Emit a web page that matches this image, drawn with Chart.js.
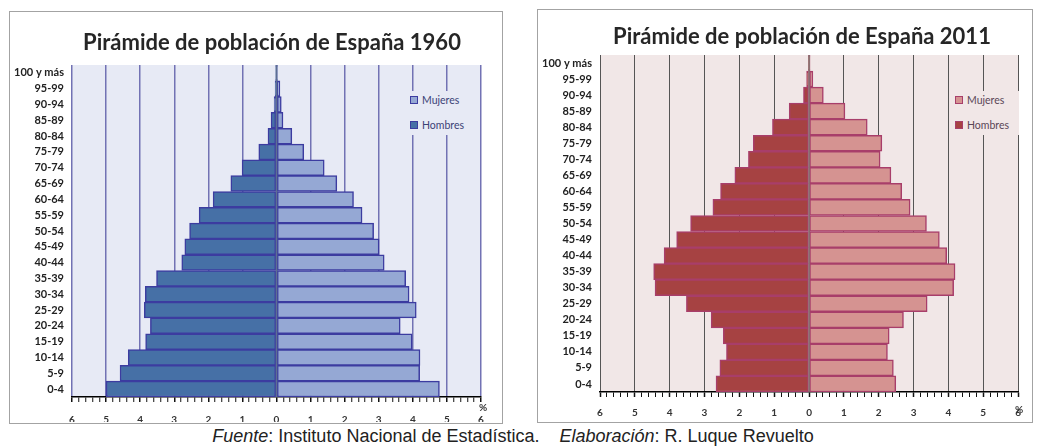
<!DOCTYPE html>
<html><head><meta charset="utf-8">
<script src="https://cdn.jsdelivr.net/npm/chart.js@4.4.0/dist/chart.umd.min.js"></script>
<style>
html,body{margin:0;padding:0;background:#fff;width:1039px;height:448px;overflow:hidden;position:relative;font-family:Lato,sans-serif;}
.box{position:absolute;border:1.5px solid #a3a3a3;background:#fff;box-sizing:border-box;}
canvas{position:absolute;}
.legend{position:absolute;font:10.5px Lato,sans-serif;}
.legend div{position:absolute;left:0;white-space:nowrap;height:12px;line-height:12px;}
.legend span.sw{display:inline-block;width:6px;height:6px;border:1px solid;vertical-align:middle;margin-right:4px;position:relative;top:-1px;}
.caption{position:absolute;left:0;width:1026px;top:426px;text-align:center;font:18px "Liberation Sans",Arial,sans-serif;color:#222;white-space:pre;}
</style></head>
<body>
<div class="box" style="left:9px;top:11px;width:494px;height:413px;"></div>
<div class="box" style="left:537px;top:9px;width:496px;height:414px;"></div>
<canvas id="c1" width="491" height="410" style="left:10px;top:12px;"></canvas>
<canvas id="c2" width="493" height="411" style="left:538px;top:10px;"></canvas>

<div class="legend" style="left:404px;top:91px;width:74px;height:44px;background:#e7eaf5;color:#3b4275;">
  <div style="left:6px;top:3px;"><span class="sw" style="background:#95a8d4;border-color:#3c3ca0;"></span>Mujeres</div>
  <div style="left:6px;top:28px;"><span class="sw" style="background:#4670a6;border-color:#3c3ca0;"></span>Hombres</div>
</div>
<div class="legend" style="left:949px;top:91px;width:70px;height:44px;background:#f1e7e7;color:#5a4656;">
  <div style="left:6px;top:3px;"><span class="sw" style="background:#d59391;border-color:#a83e6a;"></span>Mujeres</div>
  <div style="left:6px;top:28px;"><span class="sw" style="background:#a64242;border-color:#a83e6a;"></span>Hombres</div>
</div>

<div class="caption"><i>Fuente</i>: Instituto Nacional de Estadística.    <i>Elaboración</i>: R. Luque Revuelto</div>

<script>
const categories = ['100 y más','95-99','90-94','85-89','80-84','75-79','70-74','65-69','60-64','55-59','50-54','45-49','40-44','35-39','30-34','25-29','20-24','15-19','10-14','5-9','0-4'];

const hombres1960 = [0.01,0.04,0.07,0.16,0.25,0.52,1.01,1.34,1.86,2.27,2.55,2.69,2.78,3.52,3.85,3.88,3.70,3.84,4.35,4.59,5.00];
const mujeres1960 = [0.02,0.10,0.14,0.19,0.45,0.80,1.40,1.77,2.26,2.51,2.85,3.01,3.16,3.79,3.89,4.10,3.63,3.98,4.21,4.20,4.78];

const hombres2011 = [0.02,0.07,0.16,0.57,1.05,1.60,1.74,2.13,2.54,2.76,3.40,3.80,4.16,4.46,4.42,3.52,2.81,2.46,2.37,2.56,2.67];
const mujeres2011 = [0.03,0.11,0.41,1.03,1.67,2.09,2.04,2.35,2.66,2.90,3.37,3.74,3.95,4.19,4.15,3.39,2.71,2.30,2.25,2.42,2.49];

const title1960 = 'Pirámide de población de España 1960';
const title2011 = 'Pirámide de población de España 2011';
const xMin = -6, xMax = 6, minorStep = 0.2;

const isInt = v => Math.abs(v - Math.round(v)) < 1e-6;

function makePyramid(id, cfg) {
  const deco = {
    id: 'deco',
    beforeDraw(chart) {
      const a = chart.chartArea, ctx = chart.ctx;
      ctx.save(); ctx.fillStyle = cfg.plotBg;
      ctx.fillRect(a.left, a.top, a.right - a.left, a.bottom - a.top);
      ctx.restore();
    },
    afterDatasetsDraw(chart) {
      const a = chart.chartArea, ctx = chart.ctx, xs = chart.scales.x;
      const x0 = xs.getPixelForValue(0);
      ctx.save(); ctx.strokeStyle = cfg.zeroColor; ctx.lineWidth = 1.5;
      ctx.beginPath(); ctx.moveTo(x0, a.top); ctx.lineTo(x0, a.bottom); ctx.stroke();
      ctx.restore();
    },
    afterDraw(chart) {
      const xs = chart.scales.x, ctx = chart.ctx;
      ctx.save();
      ctx.fillStyle = '#262626'; ctx.font = 'bold 22px Lato';
      ctx.textAlign = 'center'; ctx.textBaseline = 'middle';
      ctx.fillText(cfg.title, cfg.titleX, cfg.titleY);
      ctx.fillStyle = '#333'; ctx.font = 'bold 10px Lato';
      ctx.fillText('%', xs.right + cfg.pctDx, xs.top + cfg.pctDy);
      ctx.restore();
    }
  };
  return new Chart(document.getElementById(id), {
    type: 'bar',
    data: {
      labels: categories,
      datasets: [
        { label: 'Mujeres', data: cfg.mujeres, backgroundColor: cfg.mujColor, borderColor: cfg.border, borderWidth: 1.5, borderSkipped: false, categoryPercentage: 1, barPercentage: 1 },
        { label: 'Hombres', data: cfg.hombres.map(v => -v), backgroundColor: cfg.homColor, borderColor: cfg.border, borderWidth: 1.5, borderSkipped: false, categoryPercentage: 1, barPercentage: 1 }
      ]
    },
    options: {
      indexAxis: 'y',
      responsive: false,
      animation: false,
      devicePixelRatio: 1,
      layout: { padding: { left: 0, right: cfg.padR, top: cfg.padT, bottom: 0 } },
      plugins: {
        legend: { display: false },
        tooltip: { enabled: false },
        title: { display: false }
      },
      scales: {
        x: {
          type: 'linear', min: xMin, max: xMax, stacked: true,
          afterFit(s) { s.height = cfg.xHeight; },
          ticks: {
            stepSize: minorStep, autoSkip: false, maxRotation: 0, padding: cfg.tickPad,
            color: '#333', font: { family: 'Lato', size: 10, weight: 'bold' },
            callback: v => isInt(v) ? String(Math.abs(Math.round(v))) : ''
          },
          grid: {
            color: c => (c.tick && isInt(c.tick.value)) ? cfg.gridColor : 'rgba(0,0,0,0)',
            lineWidth: cfg.gridWidth,
            tickColor: '#111', tickLength: 5,
            tickWidth: c => (c.tick && isInt(c.tick.value)) ? 1.5 : 1
          },
          border: { display: true, color: '#000', width: 1.5 }
        },
        y: {
          stacked: true,
          afterFit(s) { s.width = cfg.yWidth; },
          grid: { display: false, drawTicks: false },
          border: { display: false },
          ticks: { padding: 8, color: '#222', font: { family: 'Lato', size: 11, weight: 'bold' }, autoSkip: false }
        }
      }
    },
    plugins: [deco]
  });
}

makePyramid('c1', {
  title: title1960, hombres: hombres1960, mujeres: mujeres1960,
  homColor: '#4670a6', mujColor: '#95a8d4', border: '#3c3ca0',
  plotBg: '#e7eaf5', gridColor: '#7272b4', gridWidth: 1.5, zeroColor: '#5d6f92',
  padR: 20, padT: 53, yWidth: 62, xHeight: 25, tickPad: 12,
  titleX: 262, titleY: 31, pctDx: 2, pctDy: 11
});
makePyramid('c2', {
  title: title2011, hombres: hombres2011, mujeres: mujeres2011,
  homColor: '#a64242', mujColor: '#d59391', border: '#a83e6a',
  plotBg: '#f1e7e7', gridColor: '#555555', gridWidth: 1, zeroColor: '#8a7474',
  padR: 8, padT: 45, yWidth: 62, xHeight: 29, tickPad: 10,
  titleX: 264, titleY: 27, pctDx: 1, pctDy: 18
});
</script>
</body></html>
